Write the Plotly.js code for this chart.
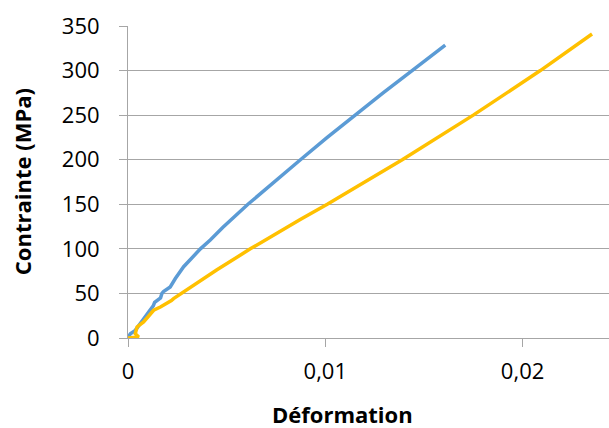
<!DOCTYPE html>
<html>
<head>
<meta charset="utf-8">
<script src="https://cdn.plot.ly/plotly-3.0.1.min.js"></script>
<style>html,body{margin:0;padding:0;background:#fff;}#chart{width:609px;height:428px;}</style>
</head>
<body>
<div id="chart"></div>
<script>
// Blue series (strain, stress)
const blueStrain = [0, 0.00012, 0.00035, 0.00062, 0.00088, 0.00122, 0.00128, 0.00135, 0.00147, 0.00165, 0.00172, 0.0018, 0.00214, 0.0024, 0.00282, 0.00324, 0.00367, 0.00417, 0.0048, 0.00608, 0.00739, 0.00874, 0.0101, 0.0115, 0.01293, 0.0144, 0.01608];
const blueStress = [0, 4.9, 8, 16.2, 23.6, 34.8, 36, 40, 42.3, 45, 50, 52, 57.3, 66.7, 80, 90, 100, 110, 124, 150, 175, 200, 225, 250, 275, 300, 328.6];
// Yellow series (strain, stress)
const yellowStrain = [0, 0.00054, 0.00037, 0.00046, 0.00079, 0.00113, 0.0013, 0.00164, 0.00198, 0.0022, 0.00231, 0.00256, 0.00299, 0.00366, 0.00451, 0.0062, 0.0074, 0.00873, 0.0101, 0.0139, 0.0175, 0.0209, 0.02352];
const yellowStress = [0, 1.1, 4.9, 12.4, 18, 27.4, 31.1, 34.8, 38.6, 42, 44.2, 47.9, 53.6, 63.5, 76.5, 100, 116, 133, 150, 200, 250, 300, 341];
// Axis ticks and titles
const xTicks = [0, 0.01, 0.02];
const xTickText = ['0', '0,01', '0,02'];
const yTicks = [0, 50, 100, 150, 200, 250, 300, 350];
const xTitle = "Déformation";
const yTitle = "Contrainte (MPa)";

const traces = [
  {x: blueStrain, y: blueStress, type: 'scatter', mode: 'lines', line: {color: '#5B9BD5', width: 3.5}, showlegend: false},
  {x: yellowStrain, y: yellowStress, type: 'scatter', mode: 'lines', line: {color: '#FFC000', width: 3.5}, showlegend: false}
];

const gridCol = '#a6a6a6';
const layout = {
  width: 609, height: 428,
  margin: {l: 128, r: 0, t: 26, b: 90, pad: 0},
  paper_bgcolor: '#fff', plot_bgcolor: '#fff',
  separators: ', ',
  font: {family: 'Open Sans, sans-serif', size: 22, color: '#000'},
  xaxis: {
    range: [0, 0.02438], tickvals: xTicks, ticktext: xTickText,
    showgrid: false, zeroline: false, showline: true, linecolor: gridCol, linewidth: 1,
    ticks: 'outside', ticklen: 8, tickcolor: gridCol, tickwidth: 1,
    ticklabelstandoff: 6, fixedrange: true
  },
  yaxis: {
    range: [0, 350], tickvals: yTicks,
    showgrid: true, gridcolor: gridCol, gridwidth: 1, zeroline: false,
    showline: true, linecolor: gridCol, linewidth: 1,
    ticks: 'outside', ticklen: 8, tickcolor: gridCol, tickwidth: 1,
    ticklabelstandoff: 15, fixedrange: true
  },
  annotations: [
    {text: '<b>' + xTitle + '</b>', xref: 'paper', yref: 'paper', x: 0.445, y: -0.188, xanchor: 'center', yanchor: 'top', showarrow: false, font: {family: 'Open Sans, sans-serif', size: 22, color: '#000'}},
    {text: '<b>' + yTitle + '</b>', xref: 'paper', yref: 'paper', x: -0.22, y: 0.5, xanchor: 'center', yanchor: 'middle', textangle: -90, showarrow: false, font: {family: 'Open Sans, sans-serif', size: 22, color: '#000'}}
  ]
};
Plotly.newPlot('chart', traces, layout, {staticPlot: true, displayModeBar: false});
</script>
</body>
</html>
